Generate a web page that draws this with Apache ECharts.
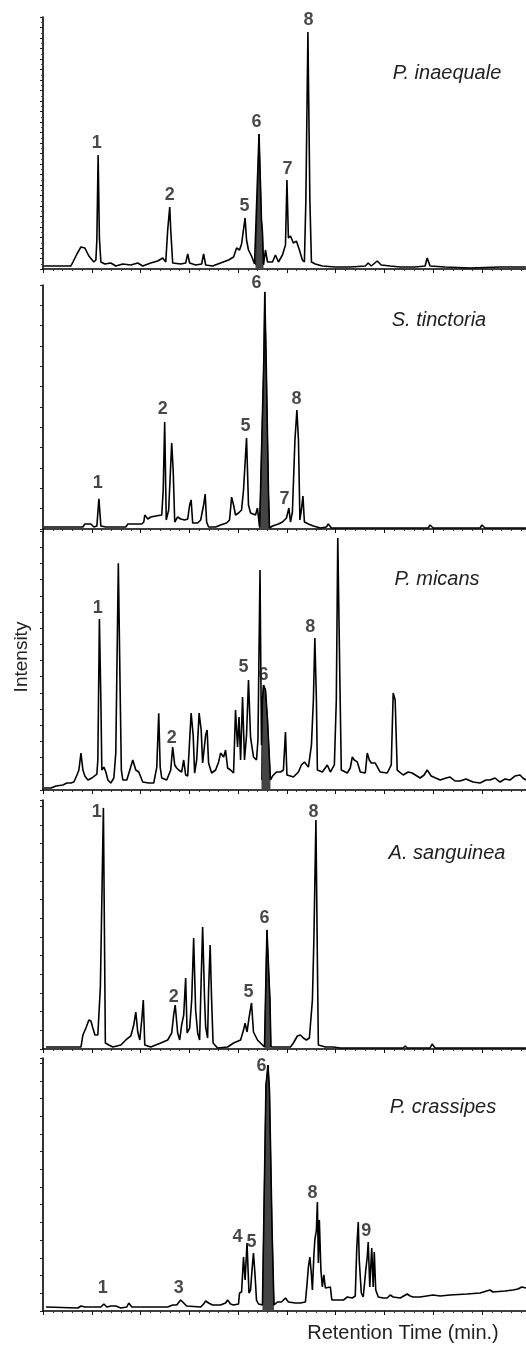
<!DOCTYPE html>
<html><head><meta charset="utf-8">
<script src="https://cdn.jsdelivr.net/npm/echarts@6/dist/echarts.min.js"></script>
<style>html,body{margin:0;padding:0;background:#fff}#c{width:526px;height:1345px}</style>
</head><body><div id="c"></div>
<script>
// ---- Panel 1: P. inaequale ----
const p1Name = 'P. inaequale';
const p1Trace = [[0.10,1.43],[2.86,1.43],[3.07,3.33],[3.48,7.14],[3.89,10.5],[4.29,10.0],[4.70,6.19],[5.21,3.33],[5.42,4.28],[5.52,13.8],[5.65,54.3],[5.78,14.8],[5.93,3.33],[6.34,2.38],[6.95,2.86],[7.46,1.43],[8.18,2.38],[9.0,1.9],[9.71,2.86],[10.22,1.43],[11.04,2.86],[11.76,3.81],[12.27,5.24],[12.58,3.33],[12.78,18.6],[12.99,29.5],[13.09,18.6],[13.29,2.86],[14.11,2.38],[14.62,2.86],[14.83,7.14],[15.03,2.86],[15.64,1.9],[16.26,2.38],[16.46,7.14],[16.67,1.9],[17.38,1.43],[18.2,2.86],[19.02,4.28],[19.53,5.71],[19.84,10.0],[20.14,9.05],[20.35,11.9],[20.71,24.3],[20.86,13.8],[21.06,9.05],[21.37,6.19],[21.68,2.38],[21.78,1.9],[22.14,64.3],[22.39,23.3],[22.49,17.6],[22.6,1.9],[22.8,9.05],[23.01,3.33],[23.52,3.33],[23.82,6.67],[24.13,3.33],[24.54,6.67],[24.85,11.4],[25.0,42.4],[25.15,14.8],[25.36,15.7],[25.66,12.4],[25.97,13.3],[26.28,9.05],[26.58,4.28],[26.79,3.33],[26.94,32.8],[27.15,112.8],[27.35,32.8],[27.51,3.33],[27.91,2.38],[28.63,1.43],[29.96,0.95],[31.49,0.95],[33.03,1.43],[33.33,2.86],[33.64,1.43],[34.25,3.81],[34.66,1.9],[35.58,1.43],[36.61,0.95],[38.14,0.95],[39.16,1.43],[39.37,5.24],[39.67,1.43],[41.21,0.95],[43.76,0.48],[46.83,0.95],[49.49,0.95]];
const p1Peak6 = [[21.78,1.9],[22.14,64.3],[22.39,23.3],[22.49,17.6],[22.6,1.9]];
const p1PeakIds = ['1','2','5','6','7','8'];
const p1LabelPos = [[5.52,60.0],[12.99,35.2],[20.65,30.0],[21.88,70.0],[25.05,47.6],[27.2,118.5]];

// ---- Panel 2: S. tinctoria ----
const p2Name = 'S. tinctoria';
const p2Trace = [[0.10,0.98],[4.09,0.98],[4.29,2.46],[4.91,2.46],[5.21,0.98],[5.52,1.48],[5.73,14.8],[5.93,1.48],[6.44,0.98],[8.49,0.98],[8.69,2.46],[10.12,2.46],[10.33,3.44],[10.43,6.89],[10.74,4.92],[11.04,5.90],[11.55,6.40],[12.17,6.89],[12.32,19.2],[12.47,52.6],[12.63,4.43],[12.88,9.35],[13.19,42.3],[13.34,29.0],[13.5,3.44],[13.8,5.90],[14.11,4.92],[14.52,4.43],[14.83,4.92],[15.03,11.8],[15.18,14.3],[15.34,2.95],[15.85,2.95],[16.16,4.43],[16.46,11.8],[16.62,17.2],[16.77,3.44],[16.97,0.98],[17.69,0.98],[18.2,1.97],[18.81,2.95],[19.12,4.43],[19.33,15.7],[19.53,11.8],[19.73,6.89],[20.04,7.87],[20.35,9.35],[20.55,19.2],[20.86,44.8],[21.06,11.8],[21.27,7.87],[21.78,6.89],[21.98,10.3],[22.19,0.98],[22.29,17.7],[22.63,83.1],[22.73,116.6],[22.87,83.1],[23.11,17.7],[23.21,0.49],[23.52,1.48],[24.13,2.46],[24.54,3.44],[24.95,5.41],[25.2,10.3],[25.36,3.44],[25.56,8.36],[25.82,43.8],[26.02,58.5],[26.18,43.8],[26.33,4.43],[26.48,9.35],[26.64,16.2],[26.79,3.44],[27.2,2.46],[27.71,1.48],[28.43,0.49],[29.04,0.98],[29.24,2.46],[29.55,0.49],[34.56,0.49],[39.47,0.49],[39.67,1.97],[39.98,0.49],[44.79,0.49],[44.99,1.97],[45.3,0.49],[49.49,0.49]];
const p2Peak6 = [[22.19,0.49],[22.29,17.7],[22.63,83.1],[22.73,116.6],[22.87,83.1],[23.11,17.7],[23.21,0.49]];
const p2PeakIds = ['1','2','5','6','7','8'];
const p2LabelPos = [[5.62,22.6],[12.27,59.0],[20.76,50.7],[21.88,121],[24.74,14.8],[25.97,64.0]];

// ---- Panel 3: P. micans ----
const p3Name = 'P. micans';
const p3Trace = [[0.10,0.93],[0.82,0.93],[1.33,1.85],[2.04,2.32],[2.45,3.24],[2.86,3.24],[3.17,3.70],[3.48,6.95],[3.68,9.26],[3.89,17.1],[4.09,9.26],[4.29,6.48],[4.6,4.63],[5.01,5.56],[5.21,6.48],[5.52,7.41],[5.62,13.9],[5.78,79.2],[5.93,41.7],[6.03,9.26],[6.24,10.6],[6.44,8.33],[6.65,4.63],[6.95,3.24],[7.26,5.56],[7.46,17.1],[7.72,105.1],[7.92,41.7],[8.03,9.26],[8.18,4.63],[8.59,4.63],[8.9,9.26],[9.2,13.9],[9.51,9.26],[9.82,8.33],[10.22,3.70],[10.84,3.24],[11.35,3.24],[11.66,10.6],[11.86,35.6],[12.01,10.6],[12.17,5.56],[12.68,4.63],[13.09,9.26],[13.29,19.9],[13.5,11.6],[13.7,10.2],[13.91,9.26],[14.21,8.33],[14.42,13.9],[14.62,6.95],[14.83,6.48],[15.03,23.2],[15.18,35.6],[15.39,25.5],[15.54,7.87],[15.75,13.9],[16.0,35.6],[16.21,27.8],[16.36,12.5],[16.67,25.5],[16.82,27.8],[16.97,12.5],[17.28,7.87],[17.69,9.26],[18.0,13.0],[18.2,17.1],[18.51,15.3],[18.71,18.5],[18.92,10.2],[19.22,9.26],[19.53,7.87],[19.73,37.0],[19.94,19.9],[20.09,33.8],[20.25,13.9],[20.45,43.1],[20.65,13.9],[20.86,25.5],[21.06,50.9],[21.27,24.5],[21.57,15.3],[21.88,13.9],[22.03,23.2],[22.24,101.9],[22.39,20.8],[22.49,41.7],[22.6,48.6],[22.8,46.3],[23.01,32.4],[23.21,13.9],[23.31,4.63],[23.52,6.48],[23.93,8.33],[24.34,8.33],[24.64,9.26],[24.85,26.9],[25.0,6.95],[25.36,6.48],[25.66,6.02],[26.18,8.33],[26.48,11.6],[26.79,13.0],[27.2,10.6],[27.51,20.8],[27.71,41.7],[27.86,70.4],[28.02,41.7],[28.12,9.26],[28.63,8.33],[29.14,11.6],[29.45,8.33],[29.86,11.6],[30.06,41.7],[30.21,116.7],[30.42,52.3],[30.57,9.26],[31.19,7.87],[31.49,10.2],[31.7,15.3],[31.9,13.9],[32.21,13.0],[32.52,8.33],[33.03,7.87],[33.23,17.1],[33.44,13.9],[33.64,12.5],[34.05,12.5],[34.56,8.33],[35.28,7.87],[35.69,11.6],[35.89,44.9],[36.09,41.7],[36.3,9.26],[36.91,6.95],[37.42,8.33],[37.83,7.87],[38.65,5.56],[39.06,6.95],[39.37,9.26],[39.78,6.48],[39.98,6.02],[40.7,4.63],[41.31,5.56],[41.72,6.02],[42.23,4.17],[42.74,4.17],[43.35,5.09],[44.07,3.70],[44.79,3.24],[45.4,4.63],[45.81,4.63],[46.32,5.56],[46.83,3.70],[47.34,5.09],[47.85,4.63],[48.36,6.48],[48.88,6.95],[49.18,5.56],[49.49,4.63]];
const p3Peak6 = [[22.39,4.63],[22.49,41.7],[22.6,48.6],[22.8,46.3],[23.01,32.4],[23.21,13.9],[23.31,4.63]];
const p3PeakIds = ['1','2','5','6','8'];
const p3LabelPos = [[5.62,84.3],[13.19,24.1],[20.55,56.9],[22.6,53.2],[27.4,75.5]];

// ---- Panel 4: A. sanguinea ----
const p4Name = 'A. sanguinea';
const p4Trace = [[0.31,0.96],[3.89,0.96],[4.09,6.75],[4.4,10.1],[4.7,14.0],[4.91,13.5],[5.11,10.1],[5.32,6.75],[5.62,6.75],[5.88,29.9],[6.19,116.2],[6.39,2.89],[6.75,1.93],[7.16,0.96],[7.98,1.93],[8.49,4.34],[9.0,6.27],[9.3,11.6],[9.51,17.8],[9.71,8.19],[9.92,4.34],[10.12,14.0],[10.28,23.6],[10.43,1.93],[11.04,0.96],[12.07,2.89],[12.78,4.34],[13.19,7.71],[13.39,16.4],[13.55,21.2],[13.8,7.71],[14.01,4.34],[14.21,11.6],[14.42,16.4],[14.62,34.2],[14.77,7.71],[15.03,10.1],[15.24,23.6],[15.44,53.5],[15.64,18.8],[15.85,7.71],[16.05,4.34],[16.21,33.3],[16.36,58.8],[16.56,23.6],[16.67,10.6],[16.87,5.30],[16.97,28.4],[17.13,50.1],[17.28,23.6],[17.43,2.89],[17.89,0.48],[18.92,0.96],[19.53,2.89],[20.25,4.34],[20.55,9.16],[20.71,12.5],[20.91,8.19],[21.11,14.9],[21.37,22.2],[21.57,8.19],[21.98,4.34],[22.49,1.93],[22.7,0.96],[22.8,23.6],[22.95,57.4],[23.11,57.4],[23.26,23.6],[23.36,0.96],[23.82,0.96],[25.36,0.96],[25.66,2.89],[26.07,6.27],[26.38,6.75],[26.69,5.30],[26.99,4.34],[27.3,5.30],[27.61,23.6],[27.76,52.5],[27.97,110.4],[28.12,42.9],[28.22,1.93],[28.94,0.96],[29.75,0.96],[30.47,0.48],[36.91,0.48],[37.12,1.45],[37.32,0.48],[39.67,0.48],[39.88,2.41],[40.18,0.48],[49.49,0.48]];
const p4Peak6 = [[22.7,0.96],[22.8,23.6],[22.95,57.4],[23.11,57.4],[23.26,23.6],[23.36,0.96]];
const p4PeakIds = ['1','2','5','6','8'];
const p4LabelPos = [[5.52,114.2],[13.39,25.1],[21.06,27.5],[22.7,63.1],[27.71,114.2]];

// ---- Panel 5: P. crassipes ----
const p5Name = 'P. crassipes';
const p5Trace = [[0.31,1.90],[3.58,1.42],[3.89,2.37],[4.29,1.90],[5.93,1.90],[6.24,3.32],[6.54,1.90],[6.95,2.37],[7.46,2.37],[7.98,1.42],[8.59,1.90],[8.79,3.79],[9.1,1.90],[11.04,1.90],[12.78,1.90],[13.29,2.84],[13.7,2.84],[14.11,5.21],[14.42,3.79],[14.72,2.37],[16.16,1.90],[16.46,3.32],[16.67,4.74],[16.97,3.79],[17.38,2.84],[17.69,2.84],[18.2,2.84],[18.71,3.79],[18.92,5.21],[19.22,3.32],[19.53,2.84],[20.04,3.32],[20.14,8.53],[20.35,9.0],[20.55,25.6],[20.71,14.7],[20.91,32.2],[21.11,8.53],[21.27,9.95],[21.42,19.4],[21.57,27.5],[21.73,17.1],[21.88,5.21],[22.09,3.32],[22.49,2.84],[22.85,107.1],[23.06,116.6],[23.21,104.8],[23.47,39.8],[23.67,2.84],[24.03,4.27],[24.44,4.27],[24.85,6.16],[25.15,4.27],[25.87,3.79],[26.38,3.79],[26.89,4.27],[27.05,12.3],[27.2,20.9],[27.35,25.6],[27.51,17.1],[27.61,9.95],[27.76,26.5],[27.86,33.7],[28.02,38.4],[28.12,51.7],[28.22,22.8],[28.32,43.1],[28.48,19.4],[28.63,11.4],[28.78,17.1],[28.94,10.9],[29.14,11.4],[29.45,11.4],[29.6,5.21],[30.16,5.21],[30.78,5.21],[31.19,6.64],[31.7,6.16],[32.0,7.11],[32.16,30.3],[32.31,42.2],[32.41,24.2],[32.62,8.53],[32.82,6.64],[33.08,19.4],[33.23,25.6],[33.33,32.7],[33.49,11.4],[33.69,29.9],[33.84,11.4],[33.95,28.0],[34.1,9.95],[34.36,6.64],[34.87,6.16],[35.28,6.16],[35.58,7.58],[35.89,6.64],[36.61,6.16],[37.32,8.06],[37.63,7.11],[37.93,6.64],[38.65,6.64],[39.98,7.58],[40.7,7.11],[41.72,7.58],[43.46,8.06],[44.79,8.53],[45.81,9.95],[46.11,9.0],[47.34,9.48],[48.16,9.95],[48.67,10.4],[49.08,11.4],[49.49,10.9]];
const p5Peak6 = [[22.49,2.84],[22.85,107.1],[23.06,116.6],[23.21,104.8],[23.47,39.8],[23.67,2.84]];
const p5PeakIds = ['1','3','4','5','6','8','9'];
const p5LabelPos = [[6.13,10.9],[13.91,10.9],[19.94,35.1],[21.37,32.7],[22.39,116.1],[27.61,55.9],[33.13,37.9]];

// axis tick settings (minutes on x, relative intensity on y)
const xMax = 49.5, xInterval = 5;
const yMax = 120;
const yIntervals = [5, 10, 7.5, 9, 8.4];

const panels = [
  {name:p1Name, trace:p1Trace, peak6:p1Peak6, ids:p1PeakIds, pos:p1LabelPos},
  {name:p2Name, trace:p2Trace, peak6:p2Peak6, ids:p2PeakIds, pos:p2LabelPos},
  {name:p3Name, trace:p3Trace, peak6:p3Peak6, ids:p3PeakIds, pos:p3LabelPos},
  {name:p4Name, trace:p4Trace, peak6:p4Peak6, ids:p4PeakIds, pos:p4LabelPos},
  {name:p5Name, trace:p5Trace, peak6:p5Peak6, ids:p5PeakIds, pos:p5LabelPos}
];
const gridBoxes = [
  {top:17, height:252},
  {top:285, height:244},
  {top:531, height:259},
  {top:800, height:249},
  {top:1058, height:253}
];
const nameCenters = [[447,73],[439,320],[437,579],[447,853],[443,1107]];

const font = '"Liberation Sans", Arial, Helvetica, sans-serif';
const grids = [], xAxes = [], yAxes = [], series = [], graphics = [];
panels.forEach((p, i) => {
  grids.push({left:43, width:483, top:gridBoxes[i].top, height:gridBoxes[i].height});
  xAxes.push({type:'value', gridIndex:i, min:0, max:xMax, interval:xInterval,
    axisLine:{show:true, onZero:false, lineStyle:{color:'#000', width:1.6}},
    axisTick:{show:true, length:4, lineStyle:{color:'#111', width:1}},
    minorTick:{show:true, splitNumber:5, length:2, lineStyle:{color:'#333', width:1}},
    axisLabel:{show:false}, splitLine:{show:false}});
  yAxes.push({type:'value', gridIndex:i, min:0, max:yMax, interval:yIntervals[i],
    axisLine:{show:true, onZero:false, lineStyle:{color:'#000', width:1.6}},
    axisTick:{show:true, length:3, lineStyle:{color:'#222', width:1}},
    minorTick:{show:i===0, splitNumber:2, length:2, lineStyle:{color:'#444'}},
    axisLabel:{show:false}, splitLine:{show:false}});
  series.push({type:'line', xAxisIndex:i, yAxisIndex:i, data:p.peak6, showSymbol:false, silent:true,
    lineStyle:{color:'#222', width:1}, areaStyle:{color:'#444', opacity:1}, z:2});
  series.push({type:'line', xAxisIndex:i, yAxisIndex:i, data:p.trace, showSymbol:false, silent:true,
    lineStyle:{color:'#000', width:1.6}, z:3});
  series.push({type:'scatter', xAxisIndex:i, yAxisIndex:i, symbolSize:1, clip:false, silent:true,
    itemStyle:{color:'rgba(0,0,0,0)'},
    data:p.ids.map((id, k) => ({name:id, value:p.pos[k]})),
    label:{show:true, position:'inside', formatter:'{b}', color:'#1a1a1a', fontSize:18, fontWeight:'bold', fontFamily:font}, z:4});
  graphics.push({type:'text', x:nameCenters[i][0], y:nameCenters[i][1],
    style:{text:p.name, font:'italic 20px ' + font, fill:'#222', textAlign:'center', textVerticalAlign:'middle'}});
});
graphics.push({type:'text', x:22, y:657, rotation:Math.PI/2,
  style:{text:'Intensity', font:'19px ' + font, fill:'#222', textAlign:'center', textVerticalAlign:'middle'}});
graphics.push({type:'text', x:403, y:1333,
  style:{text:'Retention Time (min.)', font:'20px ' + font, fill:'#222', textAlign:'center', textVerticalAlign:'middle'}});

const chart = echarts.init(document.getElementById('c'), null, {renderer:'canvas'});
chart.setOption({animation:false, backgroundColor:'#fff', grid:grids, xAxis:xAxes, yAxis:yAxes, series:series, graphic:graphics});
</script></body></html>
